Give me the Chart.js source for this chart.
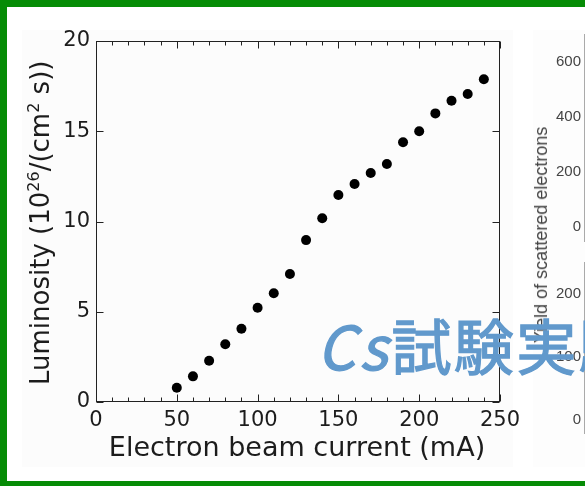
<!DOCTYPE html>
<html>
<head>
<meta charset="utf-8">
<script src="https://cdn.jsdelivr.net/npm/chart.js@4.4.1/dist/chart.umd.min.js"></script>
<style>
  html, body { margin: 0; padding: 0; width: 585px; height: 486px; overflow: hidden; background: #fff; }
  .abs { position: absolute; }
  #frame { left: 0; top: 0; width: 620px; height: 474px; border-top: 7px solid #068c06; border-left: 7px solid #068c06; border-bottom: 5px solid #068c06; }
  #panelMain { left: 22px; top: 30px; width: 491px; height: 437px; background: #fcfcfc; }
  #panelSide { left: 533px; top: 30px; width: 80px; height: 437px; background: #fdfdfd; }
  #sideTitle { left: 541px; top: 235px; transform: translate(-50%, -50%) rotate(-90deg); white-space: nowrap;
               font: 18px "Liberation Sans", Arial, sans-serif; color: #444; line-height: 1; }
  #stamp { left: 317px; top: 314px; white-space: nowrap; font-family: "Noto Sans CJK JP", sans-serif; font-weight: 400;
           font-size: 60px; line-height: 60px; letter-spacing: 2.5px; color: #6199cc; -webkit-text-stroke: 1.3px #6199cc; z-index: 10; }
  #stamp i { font-style: italic; letter-spacing: 4px; }
</style>
</head>
<body>
<div id="frame" class="abs"></div>
<div id="panelMain" class="abs"></div>
<div id="panelSide" class="abs"></div>
<canvas id="main" class="abs" width="585" height="486" style="left:0;top:0"></canvas>
<canvas id="sideTop" class="abs" width="200" height="260" style="left:540px;top:0"></canvas>
<canvas id="sideBottom" class="abs" width="200" height="200" style="left:540px;top:250px"></canvas>
<div id="sideTitle" class="abs">Yield of scattered electrons</div>
<div id="stamp" class="abs"><i>Cs</i>試験実験</div>

<script>
// Electron beam current (mA) and measured luminosity (10^26 / (cm^2 s))
const beamCurrent = [50, 60, 70, 80, 90, 100, 110, 120, 130, 140, 150, 160, 170, 180, 190, 200, 210, 220, 230, 240];
const luminosity  = [0.79, 1.42, 2.29, 3.20, 4.06, 5.22, 6.02, 7.09, 8.97, 10.18, 11.47, 12.08, 12.69, 13.19, 14.39, 15.00, 15.99, 16.69, 17.06, 17.88];

// Axis ticks
const xTicks = [0, 50, 100, 150, 200, 250];
const xMinorStep = 10;
const yTicks = [0, 5, 10, 15, 20];

// Neighbouring panel (scattered-electron yield) tick labels
const sideTopTicks = [0, 200, 400, 600];
const sideBottomTicks = [0, 100, 200];

const FONT = '"DejaVu Sans", "Liberation Sans", sans-serif';
const INK = '#1c1c1c';
const yTitleParts = [
  { text: 'Luminosity (10', sup: false },
  { text: '26', sup: true },
  { text: '/(cm', sup: false },
  { text: '2', sup: true },
  { text: ' s))', sup: false }
];

// Boxed frame with inward ticks on all four sides
const boxFrame = {
  id: 'boxFrame',
  beforeDatasetsDraw(chart) {
    const { ctx, chartArea: a, scales: { x, y } } = chart;
    ctx.save();
    ctx.strokeStyle = '#222';
    ctx.lineWidth = 1;
    const L = Math.round(a.left) + 0.5, R = Math.round(a.right) - 0.5;
    const T = Math.round(a.top) + 0.5, B = Math.round(a.bottom) - 0.5;
    ctx.strokeRect(L, T, R - L, B - T);
    ctx.beginPath();
    for (let v = x.min; v <= x.max; v += xMinorStep) {
      const px = Math.round(x.getPixelForValue(v)) + 0.5;
      const len = xTicks.includes(v) ? 7 : 4;
      ctx.moveTo(px, B); ctx.lineTo(px, B - len);
      ctx.moveTo(px, T); ctx.lineTo(px, T + len);
    }
    for (const v of yTicks) {
      const py = Math.round(y.getPixelForValue(v)) + 0.5;
      ctx.moveTo(L, py); ctx.lineTo(L + 7, py);
      ctx.moveTo(R, py); ctx.lineTo(R - 7, py);
    }
    ctx.stroke();
    ctx.restore();
  },
  afterDraw(chart) {
    const { ctx, chartArea: a } = chart;
    ctx.save();
    ctx.fillStyle = INK;
    ctx.textBaseline = 'alphabetic';
    // x-axis title
    ctx.font = '27px ' + FONT;
    ctx.textAlign = 'center';
    ctx.fillText('Electron beam current (mA)', (a.left + a.right) / 2 - 1, 456);
    // y-axis title with superscripts
    ctx.translate(49, 385);
    ctx.rotate(-Math.PI / 2);
    ctx.textAlign = 'left';
    let pos = 0;
    for (const p of yTitleParts) {
      ctx.font = (p.sup ? '16px ' : '26px ') + FONT;
      ctx.fillText(p.text, pos, p.sup ? -10 : 0);
      pos += ctx.measureText(p.text).width;
    }
    ctx.restore();
  }
};

new Chart(document.getElementById('main'), {
  type: 'scatter',
  data: {
    datasets: [{
      data: beamCurrent.map((c, i) => ({ x: c, y: luminosity[i] })),
      pointRadius: 5,
      pointHoverRadius: 5,
      pointBackgroundColor: '#000',
      pointBorderWidth: 0
    }]
  },
  options: {
    responsive: false,
    animation: false,
    devicePixelRatio: 1,
    layout: { padding: { left: 0, top: 41, right: 85, bottom: 0 } },
    plugins: { legend: { display: false }, tooltip: { enabled: false } },
    scales: {
      x: {
        type: 'linear', min: 0, max: 250,
        afterFit: s => { s.height = 84; },
        afterBuildTicks: s => { s.ticks = xTicks.map(v => ({ value: v })); },
        grid: { display: false, drawTicks: false },
        border: { display: false },
        ticks: { font: { family: FONT, size: 21 }, color: INK, padding: 6, maxRotation: 0, autoSkip: false }
      },
      y: {
        type: 'linear', min: 0, max: 20,
        afterFit: s => { s.width = 96; },
        afterBuildTicks: s => { s.ticks = yTicks.map(v => ({ value: v })); },
        grid: { display: false, drawTicks: false },
        border: { display: false },
        ticks: { font: { family: FONT, size: 21 }, color: INK, padding: 6 }
      }
    }
  },
  plugins: [boxFrame]
});

// Neighbouring panels: only their value axes fall inside the view
function sidePanel(id, min, max, ticks, padTop, padBottom) {
  new Chart(document.getElementById(id), {
    type: 'scatter',
    data: { datasets: [] },
    options: {
      responsive: false,
      animation: false,
      devicePixelRatio: 1,
      layout: { padding: { left: 0, top: padTop, right: 0, bottom: padBottom } },
      plugins: { legend: { display: false }, tooltip: { enabled: false } },
      scales: {
        x: { type: 'linear', display: false, min: 0, max: 1 },
        y: {
          type: 'linear', min, max,
          afterFit: s => { s.width = 44; },
          afterBuildTicks: s => { s.ticks = ticks.map(v => ({ value: v })); },
          grid: { display: false, drawTicks: false },
          border: { display: true, color: '#aaa', width: 1 },
          ticks: { font: { family: '"Liberation Sans", Arial, sans-serif', size: 15 }, color: '#444', padding: 3 }
        }
      }
    }
  });
}
sidePanel('sideTop', -50, 700, sideTopTicks, 34, 19);
sidePanel('sideBottom', -20, 250, sideBottomTicks, 11, 17);
</script>
</body>
</html>
